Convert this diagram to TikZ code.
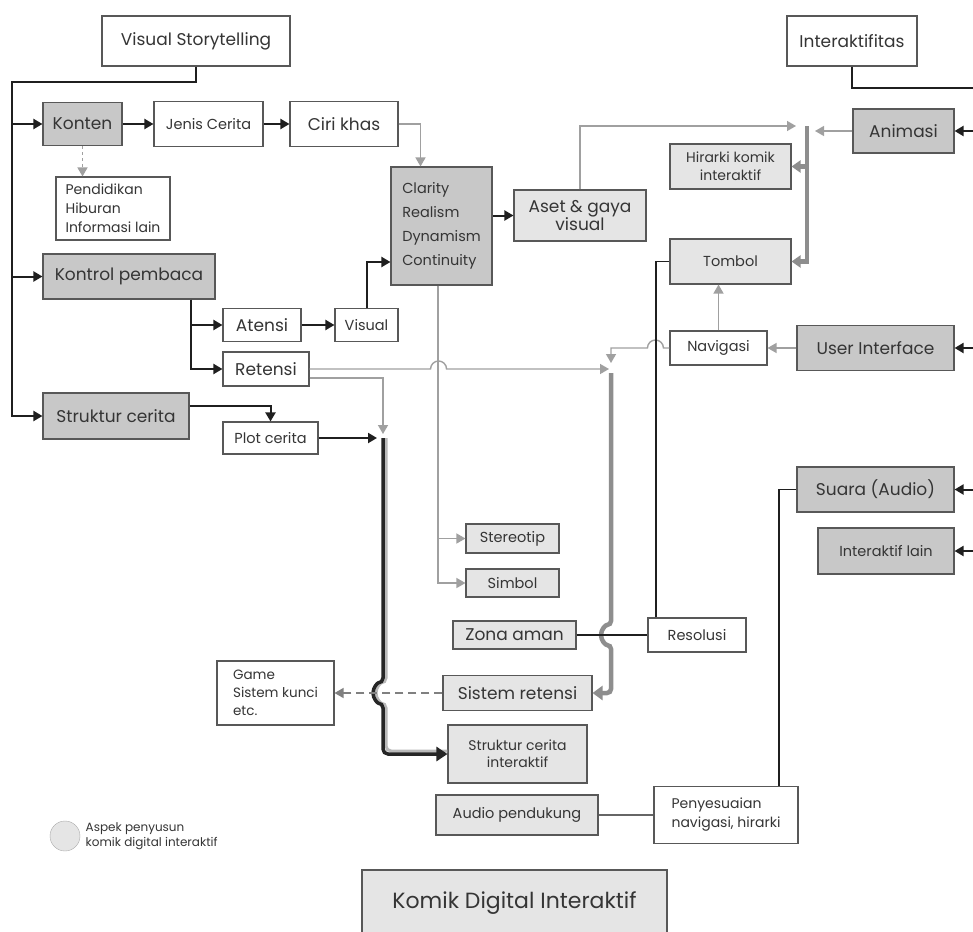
\documentclass[tikz,border=0pt]{standalone}
\usepackage{fontspec}
\setmainfont{Poppins}
\usetikzlibrary{positioning, arrows.meta}
\definecolor{boxdark}{HTML}{C8C8C8}
\definecolor{boxlight}{HTML}{E5E5E5}
\definecolor{boxline}{HTML}{585858}
\definecolor{inkgrey}{HTML}{353535}
\definecolor{linegrey}{HTML}{A0A0A0}
\definecolor{bargrey}{HTML}{8E8E8E}
\tikzset{
  >={Triangle[length=9pt,width=10pt]},
  box/.style={draw=boxline, line width=1.1pt, text=inkgrey, inner sep=2pt, align=center},
  plainbox/.style={box, fill=white},
  mainbox/.style={box, fill=boxdark},
  subbox/.style={box, fill=boxlight},
  wh/.style 2 args={minimum width=#1pt, minimum height=#2pt},
  fbig/.style={font=\fontsize{17}{20}\selectfont},
  fmid/.style={font=\fontsize{14.5}{18}\selectfont},
  fsmall/.style={font=\fontsize{13.5}{18}\selectfont},
  link/.style={draw=black!88, line width=2pt},
  soft/.style={draw=linegrey, line width=1.4pt},
  greybar/.style={draw=bargrey, line width=4.5pt},
}
\begin{document}
\begin{tikzpicture}[x=1pt, y=-1pt]
  \fill[white] (0,0) rectangle (973,931);
  \useasboundingbox (0,0) rectangle (973,931);

  \node[plainbox, fbig, wh={188}{50}] (story) at (196,41) {Visual Storytelling};
  \node[plainbox, fbig, wh={130}{50}] (inter) at (852,41) {Interaktifitas};
  \node[mainbox, fbig, wh={79}{43}] (konten) at (82.5,124) {Konten};
  \node[plainbox, fmid, wh={109}{45}] (jenis) at (208.5,124) {Jenis Cerita};
  \node[plainbox, fbig, wh={108}{45}] (ciri) at (344,124) {Ciri khas};
  \node[plainbox, align=left, wh={114}{63}, font=\fontsize{14}{19}\selectfont] (ragam) at (113,208.5) {Pendidikan\\Hiburan\\Informasi lain};
  \node[mainbox, fbig, wh={172}{45}] (kontrol) at (129,276.5) {Kontrol pembaca};
  \node[mainbox, align=left, wh={101}{118}, font=\fontsize{14.5}{24}\selectfont] (prinsip) at (441.5,226) {Clarity\\Realism\\Dynamism\\Continuity};
  \node[subbox, wh={132}{51}, font=\fontsize{17}{18}\selectfont] (aset) at (580,215.5) {Aset \& gaya\\visual};
  \node[subbox, wh={121}{45}, font=\fontsize{14}{18}\selectfont] (hirarki) at (730.5,166.5) {Hirarki komik\\interaktif};
  \node[mainbox, fbig, wh={101}{44}] (animasi) at (903.5,131) {Animasi};
  \node[subbox, fmid, wh={121}{45}] (tombol) at (730.5,261.5) {Tombol};
  \node[plainbox, fbig, wh={78}{33}] (atensi) at (262,325) {Atensi};
  \node[plainbox, fmid, wh={63}{33}] (visual) at (366.5,325) {Visual};
  \node[plainbox, fbig, wh={86}{34}] (retensi) at (266,369) {Retensi};
  \node[mainbox, fbig, wh={146}{46}] (struktur) at (116,416) {Struktur cerita};
  \node[plainbox, fmid, wh={95}{32}] (plot) at (270.5,438) {Plot cerita};
  \node[plainbox, fmid, wh={97}{34}] (navigasi) at (718.5,348) {Navigasi};
  \node[mainbox, fbig, wh={157}{45}] (ui) at (875.5,348) {User Interface};
  \node[mainbox, fbig, wh={157}{45}] (suara) at (875.5,489.5) {Suara (Audio)};
  \node[mainbox, fmid, wh={136}{46}] (lain) at (886,551) {Interaktif lain};
  \node[subbox, fmid, wh={93}{29}] (stereotip) at (512.5,538.5) {Stereotip};
  \node[subbox, fmid, wh={93}{28}] (simbol) at (512.5,583) {Simbol};
  \node[subbox, fbig, wh={123}{28}] (zona) at (514.5,635) {Zona aman};
  \node[plainbox, fmid, wh={98}{34}] (resolusi) at (697,635) {Resolusi};
  \node[subbox, fbig, wh={149}{35}] (sistem) at (517.5,693) {Sistem retensi};
  \node[plainbox, fsmall, align=left, wh={117}{64}] (game) at (275.5,693) {Game\\Sistem kunci\\etc.};
  \node[subbox, wh={139}{58}, font=\fontsize{14}{17}\selectfont] (sci) at (517.5,754) {Struktur cerita\\interaktif};
  \node[subbox, fmid, wh={162}{40}] (audio) at (517,815) {Audio pendukung};
  \node[plainbox, align=left, wh={144}{57}, font=\fontsize{14}{19}\selectfont] (penyesuaian) at (726,815) {Penyesuaian\\navigasi, hirarki};
  \node[subbox, wh={305}{66}, font=\fontsize{22}{26}\selectfont] (komik) at (514.5,903) {Komik Digital Interaktif};
  \node[circle, draw=boxline!50, fill=boxlight, minimum size=30pt, inner sep=0pt] (key) at (65,836) {};
  \node[right=2pt of key, align=left, text=inkgrey, font=\fontsize{12}{15}\selectfont] (keytext) {Aspek penyusun\\komik digital interaktif};

  \coordinate (trunk) at (12,82);
  \coordinate (hub) at (807,126);
  \coordinate (rail) at (611,373);
  \coordinate (spine) at (383,438);
  \coordinate (rim) at (973,88);

  \draw[link,->] (story.south) |- (trunk) |- (struktur);
  \draw[link,->] (konten.west -| trunk) -- (konten);
  \draw[link,->] (kontrol.west -| trunk) -- (kontrol);
  \draw[link,->] (konten) -- (jenis);
  \draw[link,->] (jenis) -- (ciri);
  \draw[soft,dashed,->] (konten) -- (ragam.north -| konten);
  \draw[soft,->] (ciri) -| ([xshift=-21pt]prinsip.north);
  \draw[link,->] ([xshift=62pt]kontrol.south) |- (atensi);
  \draw[link,->] ([xshift=62pt]kontrol.south) |- (retensi);
  \draw[link,->] (atensi) -- (visual);
  \draw[link,->] (visual) |- ([yshift=-36pt]prinsip.west);
  \draw[link,->] (prinsip.east |- aset) -- (aset);

  \draw[soft,->,shorten >=11pt] (aset) |- (hub);
  \draw[soft,->,shorten >=8pt] (animasi) -- (hub |- animasi);
  \draw[greybar,-{Triangle[length=9pt,width=12pt]}] (hub) -- (hub |- tombol) -- (tombol);
  \draw[greybar,-{Triangle[length=9pt,width=12pt]}] (hub |- hirarki) -- (hirarki);
  \draw[soft,->] (navigasi) -- (navigasi |- tombol.south);
  \draw[soft,->] (ui) -- (navigasi);
  \draw[soft,->] (navigasi.west) -- ++(-6,0) arc[start angle=0, end angle=180, radius=8pt] -| ([yshift=10pt]rail);
  \draw[soft,->,shorten >=2pt] (retensi.east) -- ++(121,0) arc[start angle=180, end angle=0, radius=8pt] -- (rail |- retensi);
  \draw[soft,->] ([yshift=-9pt]retensi.east) -| ([yshift=4pt]spine);
  \draw[link,->] ([yshift=10pt]struktur.east) -| (plot);
  \draw[link,->,shorten >=6pt] (plot) -- (spine);

  \draw[line width=3pt, draw=gray!55, rounded corners=5pt] ([xshift=3pt]spine) -- ++(0,245) arc[start angle=90, end angle=270, radius=10pt] |- ([yshift=3pt]sci.west);
  \draw[line width=3.5pt, draw=black!85, rounded corners=5pt, -{Triangle[length=11pt,width=14pt]}] (spine) -- ++(0,245) arc[start angle=90, end angle=270, radius=10pt] |- (sci);
  \draw[greybar, rounded corners=4pt, -{Triangle[length=10pt,width=14pt]}] (rail) -- ++(0,252) arc[start angle=90, end angle=270, radius=10pt] |- (sistem);

  \draw[soft,->] ([xshift=-3.5pt]prinsip.south) |- (stereotip);
  \draw[soft,->] ([xshift=-3.5pt]prinsip.south) |- (simbol);
  \draw[soft,draw=gray,dashed,dash pattern=on 8pt off 5pt,->] (sistem) -- (game);
  \draw[link,line width=1.4pt] (zona) -- (resolusi);
  \draw[link,line width=1.4pt] ([xshift=-41pt]resolusi.north) |- (tombol);
  \draw[link,line width=1.4pt] (suara) -| ([xshift=53pt]penyesuaian.north);
  \draw[soft,draw=black!60] (audio) -- (penyesuaian);

  \draw[link] (inter) |- (rim);
  \draw[link,->] (animasi -| rim) -- (animasi);
  \draw[link,->] (ui -| rim) -- (ui);
  \draw[link,->] (suara -| rim) -- (suara);
  \draw[link,->] (lain -| rim) -- (lain);
\end{tikzpicture}
\end{document}
